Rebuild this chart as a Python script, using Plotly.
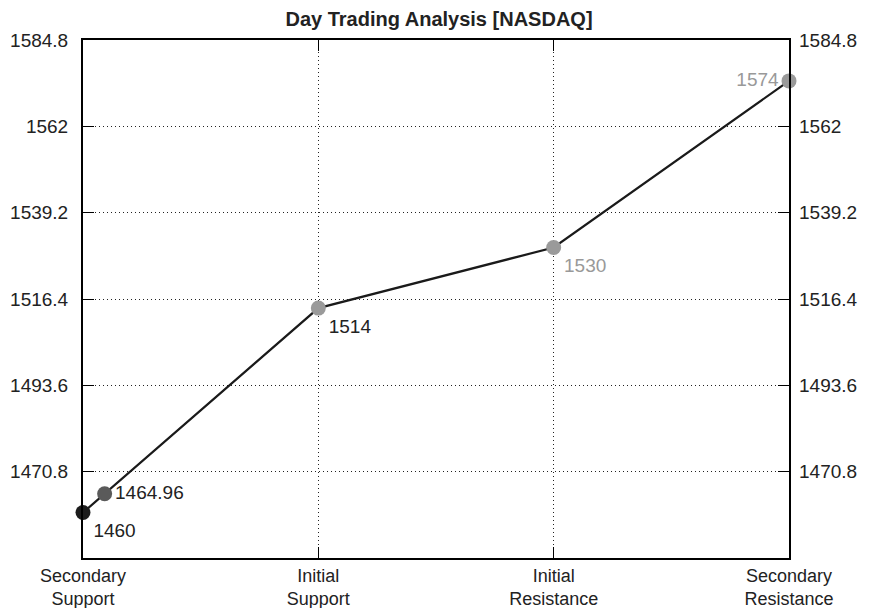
import plotly.graph_objects as go

# levels
categories = ["Secondary<br>Support", "Initial<br>Support", "Initial<br>Resistance", "Secondary<br>Resistance"]
cat_pos = [0, 1, 2, 3]
point_x = [0, 0.092, 1, 2, 3]
point_y = [1460, 1464.96, 1514, 1530, 1574]
point_labels = ["1460", "1464.96", "1514", "1530", "1574"]
y_ticks = [1470.8, 1493.6, 1516.4, 1539.2, 1562, 1584.8]
y_range = [1448, 1584.8]

marker_colors = ["#1c1c1c", "#5a5a5a", "#9a9a9a", "#9a9a9a", "#9a9a9a"]
text_colors = ["#222222", "#222222", "#222222", "#999999", "#999999"]
text_pos = ["bottom right", "middle right", "bottom right", "bottom right", "middle left"]

FONT = "Liberation Sans, Arial, sans-serif"

fig = go.Figure()

fig.add_trace(go.Scatter(
    x=point_x, y=point_y,
    mode="lines+markers+text",
    line=dict(color="#1a1a1a", width=2.2),
    marker=dict(size=15, color=marker_colors),
    text=point_labels,
    textposition=text_pos,
    textfont=dict(size=19, color=text_colors, family=FONT),
    cliponaxis=False,
    showlegend=False,
    hoverinfo="x+y",
))

# invisible trace to draw right-hand labels
fig.add_trace(go.Scatter(
    x=[point_x[0]], y=[point_y[0]], yaxis="y2",
    mode="markers", marker=dict(opacity=0), showlegend=False, hoverinfo="skip",
))

y_font = dict(size=19, color="#222222", family=FONT)
x_font = dict(size=18, color="#222222", family=FONT)

# page body adds an 8px offset, so the figure is 8px smaller than the window
fig.update_layout(
    title=dict(text="<b>Day Trading Analysis [NASDAQ]</b>", x=0.5, xanchor="center",
               yref="container", y=0.993, yanchor="top", pad=dict(t=0, b=0),
               automargin=False,
               font=dict(size=20, color="#222222", family=FONT)),
    width=862, height=600,
    margin=dict(l=75, r=81, t=32, b=50),
    paper_bgcolor="white",
    plot_bgcolor="white",
    xaxis=dict(
        range=[0, 3], tickvals=cat_pos, ticktext=categories, automargin=False,
        showline=True, linecolor="black", linewidth=2, mirror="ticks",
        ticks="inside", ticklen=11, tickcolor="black", tickwidth=1,
        showgrid=True, gridcolor="#222222", griddash="1px,3px", gridwidth=1,
        zeroline=False, tickfont=x_font, ticklabelstandoff=0,
    ),
    yaxis=dict(
        range=y_range, tickvals=y_ticks, ticktext=[f"{v:g}" for v in y_ticks], automargin=False,
        showline=True, linecolor="black", linewidth=2, mirror="ticks",
        ticks="inside", ticklen=11, tickcolor="black", tickwidth=1,
        showgrid=True, gridcolor="#222222", griddash="1px,3px", gridwidth=1,
        zeroline=False, tickfont=y_font, ticklabelstandoff=9,
    ),
    yaxis2=dict(
        range=y_range, tickvals=y_ticks, ticktext=[f"{v:g}" for v in y_ticks], automargin=False,
        overlaying="y", side="right", showgrid=False, zeroline=False,
        ticks="", tickfont=y_font, showline=False, ticklabelstandoff=9,
    ),
)

fig.write_html("out.html")
